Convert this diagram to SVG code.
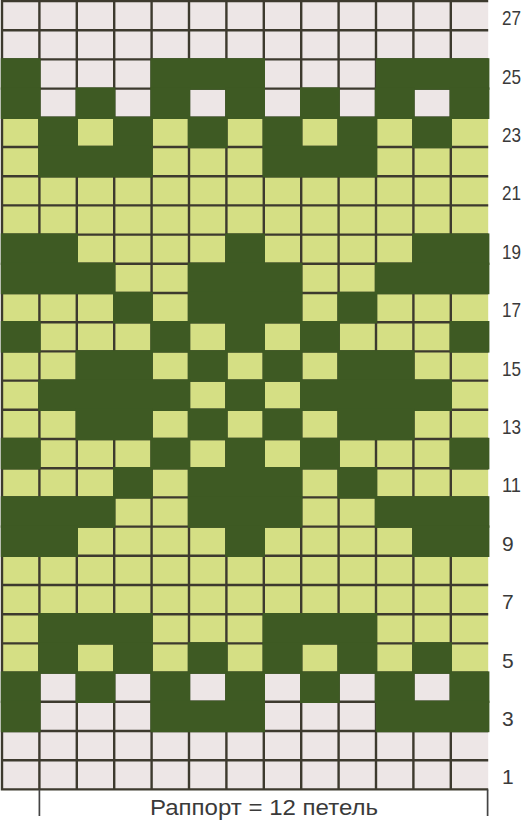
<svg xmlns="http://www.w3.org/2000/svg" width="526" height="824" viewBox="0 0 526 824">
<style>
.pink{fill:#ede6e6}
.lime{fill:#d5df84}
.d{fill:#3e5a23}
.grid{stroke:#3d3a2e;stroke-width:2.4;fill:none}
.num{font-family:"Liberation Sans",Arial,sans-serif;font-size:21px;fill:#3a3a3a}
.cap{font-family:"Liberation Sans",Arial,sans-serif;font-size:22px;fill:#3a3a3a}
.br{stroke:#444;stroke-width:1.7;fill:none}
</style>
<rect width="526" height="824" fill="#ffffff"/>
<g id="chart">
<rect class="pink" x="2" y="1" width="486.2" height="116.8"/>
<rect class="lime" x="2" y="117.8" width="486.2" height="554.8"/>
<rect class="pink" x="2" y="672.6" width="486.2" height="116.8"/>
<path class="grid" d="M2 1V789.4M39.4 1V789.4M76.8 1V789.4M114.2 1V789.4M151.6 1V789.4M189 1V789.4M226.4 1V789.4M263.8 1V789.4M301.2 1V789.4M338.6 1V789.4M376 1V789.4M413.4 1V789.4M450.8 1V789.4
M0.8 1H488.2M0.8 30.2H488.2M0.8 59.4H488.2M0.8 88.6H488.2M0.8 117.8H488.2M0.8 147H488.2M0.8 176.2H488.2M0.8 205.4H488.2M0.8 234.6H488.2M0.8 263.8H488.2M0.8 293H488.2M0.8 322.2H488.2M0.8 351.4H488.2M0.8 380.6H488.2M0.8 409.8H488.2M0.8 439H488.2M0.8 468.2H488.2M0.8 497.4H488.2M0.8 526.6H488.2M0.8 555.8H488.2M0.8 585H488.2M0.8 614.2H488.2M0.8 643.4H488.2M0.8 672.6H488.2M0.8 701.8H488.2M0.8 731H488.2M0.8 760.2H488.2M0.8 789.4H488.2"/>
<g id="dark">
<!-- row 25 -->
<rect class="d" x="0.8" y="58.2" width="39.8" height="31.6"/>
<rect class="d" x="150.4" y="58.2" width="114.6" height="31.6"/>
<rect class="d" x="375.8" y="58.2" width="113.6" height="31.6"/>
<!-- row 24 -->
<rect class="d" x="0.8" y="87.4" width="39.8" height="31.6"/>
<rect class="d" x="75.6" y="87.4" width="39.8" height="31.6"/>
<rect class="d" x="150.4" y="87.4" width="39.8" height="31.6"/>
<rect class="d" x="225.2" y="87.4" width="39.8" height="31.6"/>
<rect class="d" x="300" y="87.4" width="39.8" height="31.6"/>
<rect class="d" x="374.8" y="87.4" width="39.8" height="31.6"/>
<rect class="d" x="449.6" y="87.4" width="39.8" height="31.6"/>
<!-- row 23 -->
<rect class="d" x="38.2" y="116.6" width="39.8" height="31.6"/>
<rect class="d" x="113" y="116.6" width="39.8" height="31.6"/>
<rect class="d" x="187.8" y="116.6" width="39.8" height="31.6"/>
<rect class="d" x="262.6" y="116.6" width="39.8" height="31.6"/>
<rect class="d" x="337.4" y="116.6" width="39.8" height="31.6"/>
<rect class="d" x="412.2" y="116.6" width="39.8" height="31.6"/>
<!-- row 22 -->
<rect class="d" x="38.2" y="145.8" width="114.6" height="31.6"/>
<rect class="d" x="262.6" y="145.8" width="114.6" height="31.6"/>
<!-- row 19 -->
<rect class="d" x="0.8" y="233.4" width="77.2" height="31.6"/>
<rect class="d" x="225.2" y="233.4" width="39.8" height="31.6"/>
<rect class="d" x="412.2" y="233.4" width="77.2" height="31.6"/>
<!-- row 18 -->
<rect class="d" x="0.8" y="262.6" width="114.6" height="31.6"/>
<rect class="d" x="187.8" y="262.6" width="114.6" height="31.6"/>
<rect class="d" x="374.8" y="262.6" width="114.6" height="31.6"/>
<!-- row 17 -->
<rect class="d" x="113" y="291.8" width="39.8" height="31.6"/>
<rect class="d" x="187.8" y="291.8" width="114.6" height="31.6"/>
<rect class="d" x="337.4" y="291.8" width="39.8" height="31.6"/>
<!-- row 16 -->
<rect class="d" x="0.8" y="321" width="39.8" height="31.6"/>
<rect class="d" x="150.4" y="321" width="39.8" height="31.6"/>
<rect class="d" x="225.2" y="321" width="39.8" height="31.6"/>
<rect class="d" x="300" y="321" width="39.8" height="31.6"/>
<rect class="d" x="449.6" y="321" width="39.8" height="31.6"/>
<!-- row 15 -->
<rect class="d" x="75.6" y="350.2" width="77.2" height="31.6"/>
<rect class="d" x="187.8" y="350.2" width="39.8" height="31.6"/>
<rect class="d" x="262.6" y="350.2" width="39.8" height="31.6"/>
<rect class="d" x="337.4" y="350.2" width="77.2" height="31.6"/>
<!-- row 14 -->
<rect class="d" x="38.2" y="379.4" width="152" height="31.6"/>
<rect class="d" x="225.2" y="379.4" width="39.8" height="31.6"/>
<rect class="d" x="300" y="379.4" width="152" height="31.6"/>
<!-- row 13 -->
<rect class="d" x="75.6" y="408.6" width="77.2" height="31.6"/>
<rect class="d" x="187.8" y="408.6" width="39.8" height="31.6"/>
<rect class="d" x="262.6" y="408.6" width="39.8" height="31.6"/>
<rect class="d" x="337.4" y="408.6" width="77.2" height="31.6"/>
<!-- row 12 -->
<rect class="d" x="0.8" y="437.8" width="39.8" height="31.6"/>
<rect class="d" x="150.4" y="437.8" width="39.8" height="31.6"/>
<rect class="d" x="225.2" y="437.8" width="39.8" height="31.6"/>
<rect class="d" x="300" y="437.8" width="39.8" height="31.6"/>
<rect class="d" x="449.6" y="437.8" width="39.8" height="31.6"/>
<!-- row 11 -->
<rect class="d" x="113" y="467" width="39.8" height="31.6"/>
<rect class="d" x="187.8" y="467" width="114.6" height="31.6"/>
<rect class="d" x="337.4" y="467" width="39.8" height="31.6"/>
<!-- row 10 -->
<rect class="d" x="0.8" y="496.2" width="114.6" height="31.6"/>
<rect class="d" x="187.8" y="496.2" width="114.6" height="31.6"/>
<rect class="d" x="374.8" y="496.2" width="114.6" height="31.6"/>
<!-- row 9 -->
<rect class="d" x="0.8" y="525.4" width="77.2" height="31.6"/>
<rect class="d" x="225.2" y="525.4" width="39.8" height="31.6"/>
<rect class="d" x="412.2" y="525.4" width="77.2" height="31.6"/>
<!-- row 6 -->
<rect class="d" x="38.2" y="613" width="114.6" height="31.6"/>
<rect class="d" x="262.6" y="613" width="114.6" height="31.6"/>
<!-- row 5 -->
<rect class="d" x="38.2" y="642.2" width="39.8" height="31.6"/>
<rect class="d" x="113" y="642.2" width="39.8" height="31.6"/>
<rect class="d" x="187.8" y="642.2" width="39.8" height="31.6"/>
<rect class="d" x="262.6" y="642.2" width="39.8" height="31.6"/>
<rect class="d" x="337.4" y="642.2" width="39.8" height="31.6"/>
<rect class="d" x="412.2" y="642.2" width="39.8" height="31.6"/>
<!-- row 4 -->
<rect class="d" x="0.8" y="671.4" width="39.8" height="31.6"/>
<rect class="d" x="75.6" y="671.4" width="39.8" height="31.6"/>
<rect class="d" x="150.4" y="671.4" width="39.8" height="31.6"/>
<rect class="d" x="225.2" y="671.4" width="39.8" height="31.6"/>
<rect class="d" x="300" y="671.4" width="39.8" height="31.6"/>
<rect class="d" x="374.8" y="671.4" width="39.8" height="31.6"/>
<rect class="d" x="449.6" y="671.4" width="39.8" height="31.6"/>
<!-- row 3 -->
<rect class="d" x="0.8" y="700.6" width="39.8" height="31.6"/>
<rect class="d" x="150.4" y="700.6" width="114.6" height="31.6"/>
<rect class="d" x="375.8" y="700.6" width="113.6" height="31.6"/>
</g>
</g>
<g id="row-numbers">
<text class="num" x="502" y="25" textLength="19" lengthAdjust="spacingAndGlyphs">27</text>
<text class="num" x="502" y="83.5" textLength="19" lengthAdjust="spacingAndGlyphs">25</text>
<text class="num" x="502" y="141.9" textLength="19" lengthAdjust="spacingAndGlyphs">23</text>
<text class="num" x="502" y="200.3" textLength="19" lengthAdjust="spacingAndGlyphs">21</text>
<text class="num" x="502" y="258.7" textLength="19" lengthAdjust="spacingAndGlyphs">19</text>
<text class="num" x="502" y="317.1" textLength="19" lengthAdjust="spacingAndGlyphs">17</text>
<text class="num" x="502" y="375.5" textLength="19" lengthAdjust="spacingAndGlyphs">15</text>
<text class="num" x="502" y="433.9" textLength="19" lengthAdjust="spacingAndGlyphs">13</text>
<text class="num" x="502" y="492.3" textLength="19" lengthAdjust="spacingAndGlyphs">11</text>
<text class="num" x="502" y="550.7">9</text>
<text class="num" x="502" y="609.1">7</text>
<text class="num" x="502" y="667.5">5</text>
<text class="num" x="502" y="725.9">3</text>
<text class="num" x="502" y="784.3">1</text>
</g>
<g id="rapport">
<path class="br" d="M39.4 789.4V816M487.6 789.4V816"/>
<text class="cap" x="150" y="815" textLength="228" lengthAdjust="spacingAndGlyphs">Раппорт = 12 петель</text>
</g>
</svg>
